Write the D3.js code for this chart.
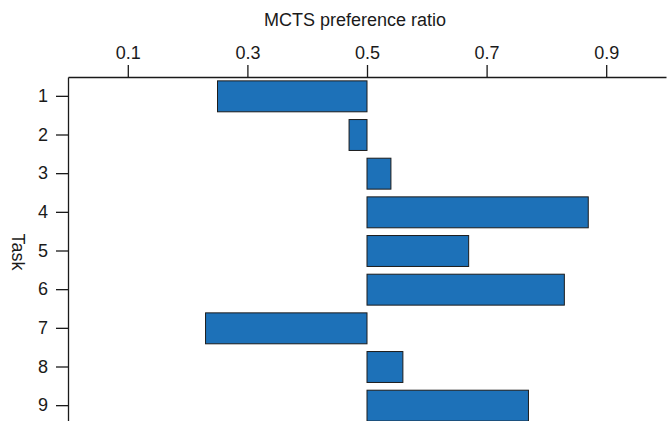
<!DOCTYPE html>
<html>
<head>
<meta charset="utf-8">
<script src="https://cdn.jsdelivr.net/npm/d3@7"></script>
<style>
    body { margin: 0; background: #fff; }
    svg { display: block; }
    text { font-family: "Liberation Sans", Arial, Helvetica, sans-serif; fill: #1a1a1a; }
</style>
</head>
<body>
<div id="vis"></div>
<script>
// data
var tasks = ['1', '2', '3', '4', '5', '6', '7', '8', '9'];
var ratios = [0.25, 0.47, 0.54, 0.87, 0.67, 0.83, 0.23, 0.56, 0.77];
var xTicks = [0.1, 0.3, 0.5, 0.7, 0.9];
var baseline = 0.5;

var width = 667, height = 421;

var svg = d3.select('#vis')
    .append('svg')
        .attr('width', width)
        .attr('height', height);

var xScale = d3.scaleLinear()
    .domain([0, 1])
    .range([68, 666]);

var yScale = d3.scaleBand()
    .domain(tasks)
    .range([77, 425])
    .paddingInner(0.2)
    .paddingOuter(0.1);

// bars from the 0.5 baseline
svg.selectAll('.bar')
    .data(tasks)
    .enter()
    .append('rect')
        .attr('class', 'bar')
        .attr('x', function(d, i) { return Math.min(xScale(ratios[i]), xScale(baseline)); })
        .attr('width', function(d, i) { return Math.abs(xScale(ratios[i]) - xScale(baseline)); })
        .attr('y', function(d) { return yScale(d); })
        .attr('height', yScale.bandwidth())
        .attr('fill', '#1d71b8')
        .attr('stroke', '#1c1c1c')
        .attr('stroke-width', 1);

// axes
var xAxis = svg.append('g')
    .attr('transform', 'translate(0,77)')
    .call(d3.axisTop(xScale)
        .tickValues(xTicks)
        .tickFormat(d3.format('.1f'))
        .tickSize(12)
        .tickSizeOuter(0)
        .tickPadding(6));

var yAxis = svg.append('g')
    .attr('transform', 'translate(68,0)')
    .call(d3.axisLeft(yScale)
        .tickSize(12)
        .tickSizeOuter(0)
        .tickPadding(8));

[xAxis, yAxis].forEach(function(ax) {
    ax.select('.domain').attr('stroke', '#1a1a1a').attr('stroke-width', 1.3);
    ax.selectAll('.tick line').attr('stroke', '#1a1a1a').attr('stroke-width', 1.3);
    ax.selectAll('.tick text')
        .attr('font-size', 18)
        .style('font-family', '"Liberation Sans", Arial, Helvetica, sans-serif')
        .attr('fill', '#1a1a1a');
});

// axis titles
svg.append('text')
    .attr('x', 355)
    .attr('y', 26)
    .attr('text-anchor', 'middle')
    .attr('font-size', 18)
    .text('MCTS preference ratio');

svg.append('text')
    .attr('transform', 'translate(11.5,252) rotate(90)')
    .attr('text-anchor', 'middle')
    .attr('font-size', 18)
    .text('Task');
</script>
</body>
</html>
